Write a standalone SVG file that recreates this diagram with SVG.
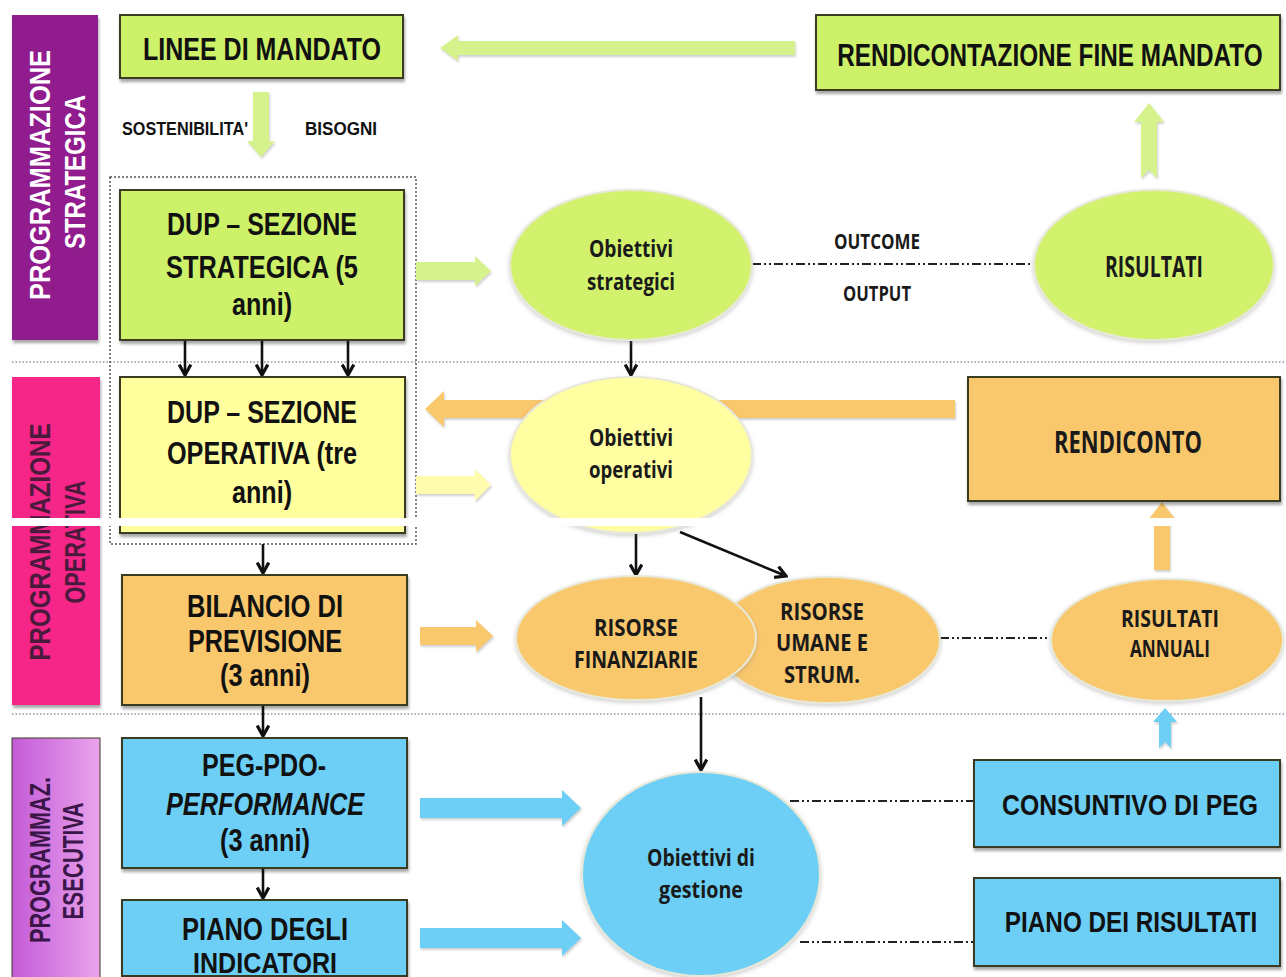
<svg xmlns="http://www.w3.org/2000/svg" width="1286" height="977" viewBox="0 0 1286 977">
<defs>
<filter id="sh" x="-5%" y="-5%" width="108%" height="120%">
<feDropShadow dx="1" dy="3" stdDeviation="1.5" flood-color="#000" flood-opacity="0.35"/>
</filter>
<filter id="esh" x="-10%" y="-10%" width="120%" height="130%">
<feDropShadow dx="0" dy="2" stdDeviation="2" flood-color="#777" flood-opacity="0.35"/>
</filter>
<filter id="ash" x="-10%" y="-20%" width="120%" height="160%">
<feDropShadow dx="1" dy="2" stdDeviation="1" flood-color="#888" flood-opacity="0.4"/>
</filter>
<linearGradient id="gEse" x1="0" y1="0" x2="1" y2="0">
<stop offset="0" stop-color="#C45BD8"/>
<stop offset="1" stop-color="#E9A3EC"/>
</linearGradient>
<marker id="ah" viewBox="0 0 12 12" refX="10" refY="6" markerWidth="14" markerHeight="14" markerUnits="userSpaceOnUse" orient="auto">
<path d="M1,1 L10,6 L1,11" fill="none" stroke="#111" stroke-width="2.8"/>
</marker>
<style>
.box{stroke:#3a3a22;stroke-width:2;filter:url(#sh)}
.g{fill:#CDF26A}
.y{fill:#FFFF9E}
.o{fill:#F9C76C}
.b{fill:#6DCFF6}
.ell{stroke:#e8e8d8;stroke-width:2;filter:url(#esh)}
.bt{font-family:"Liberation Sans",Arial,sans-serif;font-weight:bold;fill:#111;text-anchor:middle}
.et{font-family:"Open Sans","Liberation Sans",Arial,sans-serif;font-weight:bold;fill:#1a1a1a;text-anchor:middle}
.side{font-family:"Liberation Sans",Arial,sans-serif;font-weight:bold;text-anchor:middle}
.blk{stroke:#111;stroke-width:2.6;fill:none;marker-end:url(#ah)}
.dd{stroke:#222;stroke-width:1.8;fill:none;stroke-dasharray:9 3 2 3 2 3}
.sep{stroke:#a9b0bc;stroke-width:2;stroke-dasharray:1.5 2;fill:none}
.fat{filter:url(#ash)}
</style>
</defs>
<rect width="1286" height="977" fill="#fff"/>

<g id="separators">
<line class="sep" x1="12" y1="362" x2="1286" y2="362"/>
<line class="sep" x1="12" y1="714" x2="1286" y2="714"/>
<rect x="110" y="177" width="306" height="367" fill="none" stroke="#555" stroke-width="1.5" stroke-dasharray="2 2"/>
</g>

<g id="band-strategica">
<rect x="12" y="15" width="86" height="325" fill="#911C8E" filter="url(#sh)"/>
<text class="side" transform="translate(50,175) rotate(-90)" font-size="30" fill="#fff" textLength="250" lengthAdjust="spacingAndGlyphs">PROGRAMMAZIONE</text>
<text class="side" transform="translate(85,172) rotate(-90)" font-size="30" fill="#fff" textLength="154" lengthAdjust="spacingAndGlyphs">STRATEGICA</text>
</g>
<g id="band-operativa">
<rect x="12" y="377" width="88" height="328" fill="#F62589" filter="url(#sh)"/>
<text class="side" transform="translate(50,542) rotate(-90)" font-size="30" fill="#4a1a3c" textLength="237" lengthAdjust="spacingAndGlyphs">PROGRAMMAZIONE</text>
<text class="side" transform="translate(85,542) rotate(-90)" font-size="30" fill="#4a1a3c" textLength="123" lengthAdjust="spacingAndGlyphs">OPERATIVA</text>
</g>
<g id="band-esecutiva">
<rect x="12" y="738" width="88" height="245" fill="url(#gEse)" stroke="#3a3a22" stroke-width="1"/>
<text class="side" transform="translate(50,860) rotate(-90)" font-size="30" fill="#3b1648" textLength="166" lengthAdjust="spacingAndGlyphs">PROGRAMMAZ.</text>
<text class="side" transform="translate(83,861) rotate(-90)" font-size="30" fill="#3b1648" textLength="117" lengthAdjust="spacingAndGlyphs">ESECUTIVA</text>
</g>

<g id="connectors">
<path class="fat" d="M440,48 L458,35 L458,41 L795,41 L795,55 L458,55 L458,61 Z" fill="#D6F28C"/>
<path class="fat" d="M261,157 L247,141 L253,141 L253,92 L269,92 L269,141 L275,141 Z" fill="#D6F28C"/>
<path class="fat" d="M491,271 L475,256 L475,262 L416,262 L416,280 L475,280 L475,286 Z" fill="#D6F28C"/>
<path class="fat" d="M1149,103 L1164,122 L1157,122 L1157,178 L1149,170 L1141,178 L1141,122 L1134,122 Z" fill="#D6F28C"/>
<path class="fat" d="M425,409 L444,391 L444,400 L955,400 L955,418 L444,418 L444,427 Z" fill="#F9C76C"/>
<path class="fat" d="M491,485 L475,469 L475,476 L416,476 L416,494 L475,494 L475,501 Z" fill="#FFFCAE"/>
<path class="fat" d="M1162,502 L1176,520 L1170,520 L1170,570 L1154,570 L1154,520 L1148,520 Z" fill="#F9C76C"/>
<path class="fat" d="M493,636 L476,620 L476,627 L420,627 L420,645 L476,645 L476,652 Z" fill="#F9C76C"/>
<path class="fat" d="M581,808 L562,790 L562,798 L420,798 L420,818 L562,818 L562,826 Z" fill="#6DCFF6"/>
<path class="fat" d="M581,938 L562,920 L562,928 L420,928 L420,948 L562,948 L562,956 Z" fill="#6DCFF6"/>
<path class="fat" d="M1165,708 L1177,722 L1171,722 L1171,748 L1165,742 L1159,748 L1159,722 L1153,722 Z" fill="#6DCFF6"/>

<line class="blk" x1="185" y1="341" x2="185" y2="375"/>
<line class="blk" x1="262" y1="341" x2="262" y2="375"/>
<line class="blk" x1="348" y1="341" x2="348" y2="375"/>
<line class="blk" x1="631" y1="340" x2="631" y2="375"/>
<line class="blk" x1="263" y1="544" x2="263" y2="573"/>
<line class="blk" x1="636" y1="530" x2="636" y2="575"/>
<line class="blk" x1="680" y1="532" x2="786" y2="576"/>
<line class="blk" x1="701" y1="697" x2="701" y2="770"/>
<line class="blk" x1="263" y1="705" x2="263" y2="736"/>
<line class="blk" x1="263" y1="868" x2="263" y2="898"/>

<line class="dd" x1="752" y1="264" x2="1035" y2="264"/>
<line class="dd" x1="940" y1="638" x2="1050" y2="638"/>
<line class="dd" x1="790" y1="801" x2="974" y2="801"/>
<line class="dd" x1="800" y1="942" x2="974" y2="942"/>
</g>

<g id="n-linee">
<rect class="box g" x="120" y="15" width="283" height="63"/>
<text class="bt" x="262" y="60" font-size="32" textLength="238" lengthAdjust="spacingAndGlyphs">LINEE DI MANDATO</text>
</g>
<g id="n-labels">
<text class="bt" x="185" y="135" font-size="18" textLength="126" lengthAdjust="spacingAndGlyphs">SOSTENIBILITA'</text>
<text class="bt" x="341" y="135" font-size="18" textLength="72" lengthAdjust="spacingAndGlyphs">BISOGNI</text>
<text class="et" x="877" y="249" font-size="22" textLength="86" lengthAdjust="spacingAndGlyphs">OUTCOME</text>
<text class="et" x="877" y="301" font-size="22" textLength="68" lengthAdjust="spacingAndGlyphs">OUTPUT</text>
</g>
<g id="n-rendfm">
<rect class="box g" x="816" y="15" width="464" height="75"/>
<text class="bt" transform="translate(1050,66) scale(0.76,1)" font-size="32">RENDICONTAZIONE FINE MANDATO</text>
</g>
<g id="n-dupss">
<rect class="box g" x="120" y="190" width="284" height="150"/>
<text class="bt" x="262" y="235" font-size="31" textLength="190" lengthAdjust="spacingAndGlyphs">DUP – SEZIONE</text>
<text class="bt" x="262" y="278" font-size="31" textLength="192" lengthAdjust="spacingAndGlyphs">STRATEGICA (5</text>
<text class="bt" x="262" y="315" font-size="31" textLength="60" lengthAdjust="spacingAndGlyphs">anni)</text>
</g>
<g id="n-objstr">
<ellipse class="ell" cx="631" cy="265" rx="121" ry="75" fill="#D2F26E"/>
<text class="et" x="631" y="257" font-size="24" textLength="84" lengthAdjust="spacingAndGlyphs">Obiettivi</text>
<text class="et" x="631" y="290" font-size="24" textLength="88" lengthAdjust="spacingAndGlyphs">strategici</text>
</g>
<g id="n-risultati">
<ellipse class="ell" cx="1154" cy="265" rx="120" ry="75" fill="#D2F26E"/>
<text class="et" x="1154" y="277" font-size="28" textLength="98" lengthAdjust="spacingAndGlyphs">RISULTATI</text>
</g>
<g id="n-dupso">
<rect class="box y" x="120" y="377" width="285" height="156"/>
<text class="bt" x="262" y="423" font-size="31" textLength="190" lengthAdjust="spacingAndGlyphs">DUP – SEZIONE</text>
<text class="bt" x="262" y="464" font-size="31" textLength="190" lengthAdjust="spacingAndGlyphs">OPERATIVA (tre</text>
<text class="bt" x="262" y="503" font-size="31" textLength="60" lengthAdjust="spacingAndGlyphs">anni)</text>
</g>
<g id="n-objop">
<ellipse class="ell" cx="631" cy="455" rx="121" ry="78" fill="#FFFEA0"/>
<text class="et" x="631" y="446" font-size="24" textLength="84" lengthAdjust="spacingAndGlyphs">Obiettivi</text>
<text class="et" x="631" y="478" font-size="24" textLength="84" lengthAdjust="spacingAndGlyphs">operativi</text>
</g>
<g id="n-rendiconto">
<rect class="box o" x="968" y="377" width="312" height="124"/>
<text class="et" x="1128" y="453" font-size="30" textLength="148" lengthAdjust="spacingAndGlyphs">RENDICONTO</text>
</g>
<g id="n-bilancio">
<rect class="box o" x="122" y="575" width="285" height="130"/>
<text class="bt" x="265" y="617" font-size="31" textLength="156" lengthAdjust="spacingAndGlyphs">BILANCIO DI</text>
<text class="bt" x="265" y="652" font-size="31" textLength="154" lengthAdjust="spacingAndGlyphs">PREVISIONE</text>
<text class="bt" x="265" y="686" font-size="31" textLength="90" lengthAdjust="spacingAndGlyphs" font-weight="normal">(3 anni)</text>
</g>
<g id="n-risumane">
<ellipse class="ell" cx="827" cy="640" rx="113" ry="63" fill="#F9C76C"/>
<text class="et" x="822" y="620" font-size="24" textLength="84" lengthAdjust="spacingAndGlyphs">RISORSE</text>
<text class="et" x="822" y="651" font-size="24" textLength="92" lengthAdjust="spacingAndGlyphs">UMANE E</text>
<text class="et" x="822" y="683" font-size="24" textLength="76" lengthAdjust="spacingAndGlyphs">STRUM.</text>
</g>
<g id="n-risfin">
<ellipse class="ell" cx="636" cy="638" rx="120" ry="62" fill="#F9C76C"/>
<text class="et" x="636" y="636" font-size="24" textLength="84" lengthAdjust="spacingAndGlyphs">RISORSE</text>
<text class="et" x="636" y="668" font-size="24" textLength="124" lengthAdjust="spacingAndGlyphs">FINANZIARIE</text>
</g>
<g id="n-risann">
<ellipse class="ell" cx="1167" cy="640" rx="116" ry="61" fill="#F9C76C"/>
<text class="et" x="1170" y="627" font-size="24" textLength="98" lengthAdjust="spacingAndGlyphs">RISULTATI</text>
<text class="et" x="1170" y="657" font-size="24" textLength="80" lengthAdjust="spacingAndGlyphs">ANNUALI</text>
</g>
<g id="n-peg">
<rect class="box b" x="122" y="738" width="285" height="130"/>
<text class="bt" x="264" y="776" font-size="31" textLength="124" lengthAdjust="spacingAndGlyphs">PEG-PDO-</text>
<text class="bt" x="265" y="815" font-size="31" textLength="198" lengthAdjust="spacingAndGlyphs" font-style="italic">PERFORMANCE</text>
<text class="bt" x="265" y="851" font-size="31" textLength="90" lengthAdjust="spacingAndGlyphs" font-weight="normal">(3 anni)</text>
</g>
<g id="n-piano-ind">
<rect class="box b" x="122" y="900" width="285" height="76"/>
<text class="bt" x="265" y="940" font-size="31" textLength="166" lengthAdjust="spacingAndGlyphs">PIANO DEGLI</text>
<text class="bt" x="265" y="973" font-size="30" textLength="144" lengthAdjust="spacingAndGlyphs">INDICATORI</text>
</g>
<g id="n-objgest">
<ellipse class="ell" cx="701" cy="874" rx="119" ry="102" fill="#6DCFF6"/>
<text class="et" x="701" y="866" font-size="24" textLength="108" lengthAdjust="spacingAndGlyphs">Obiettivi di</text>
<text class="et" x="701" y="898" font-size="24" textLength="84" lengthAdjust="spacingAndGlyphs">gestione</text>
</g>
<g id="n-consuntivo">
<rect class="box b" x="974" y="760" width="306" height="87"/>
<text class="bt" transform="translate(1130,815) scale(0.826,1)" font-size="30">CONSUNTIVO DI PEG</text>
</g>
<g id="n-pianoris">
<rect class="box b" x="974" y="878" width="306" height="88"/>
<text class="bt" transform="translate(1131,932) scale(0.81,1)" font-size="30">PIANO DEI RISULTATI</text>
</g>

<rect x="0" y="518" width="1286" height="8" fill="#fff"/>
</svg>
